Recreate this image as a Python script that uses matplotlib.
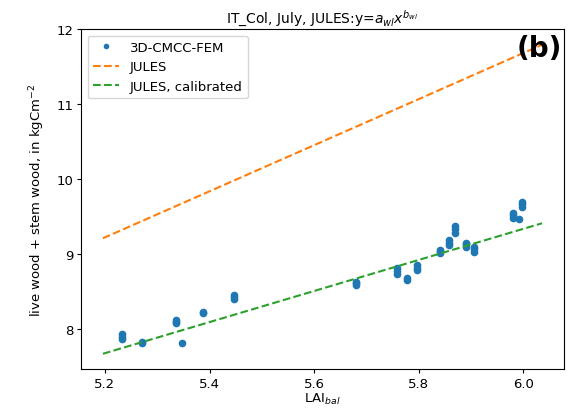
import matplotlib
matplotlib.use("Agg")
import matplotlib.pyplot as plt

# 3D-CMCC-FEM points (LAI_bal, wood carbon)
lai_pts = [5.233, 5.233, 5.233,
           5.270, 5.270,
           5.336, 5.336, 5.336,
           5.347,
           5.388, 5.388,
           5.447, 5.447, 5.447,
           5.680, 5.680, 5.680,
           5.758, 5.758, 5.758,
           5.778, 5.778,
           5.797, 5.797, 5.797,
           5.841, 5.841, 5.841,
           5.858, 5.858, 5.858,
           5.869, 5.869, 5.869,
           5.891, 5.891, 5.891,
           5.905, 5.905, 5.905,
           5.980, 5.980, 5.980,
           5.992,
           5.998, 5.998, 5.998]
wood_pts = [7.87, 7.90, 7.93,
            7.81, 7.83,
            8.08, 8.10, 8.12,
            7.81,
            8.21, 8.23,
            8.40, 8.43, 8.46,
            8.59, 8.61, 8.63,
            8.74, 8.78, 8.81,
            8.65, 8.68,
            8.79, 8.82, 8.86,
            9.01, 9.04, 9.06,
            9.12, 9.15, 9.19,
            9.28, 9.33, 9.37,
            9.10, 9.13, 9.15,
            9.03, 9.07, 9.10,
            9.48, 9.52, 9.55,
            9.47,
            9.63, 9.67, 9.70]

# JULES allometric lines (endpoints)
lai_line = [5.196, 6.036]
jules_y = [9.21, 11.79]
jules_cal_y = [7.67, 9.41]

fig = plt.figure(figsize=(5.74, 4.14), dpi=100)
ax = fig.add_axes([0.141, 0.1063, 0.8416, 0.8212])

ax.plot(lai_pts, wood_pts, '.', color='C0', label='3D-CMCC-FEM', markersize=9, linestyle='none')
ax.plot(lai_line, jules_y, '--', color='C1', label='JULES')
ax.plot(lai_line, jules_cal_y, '--', color='C2', label='JULES, calibrated')

ax.set_xticks([5.2, 5.4, 5.6, 5.8, 6.0])
ax.set_yticks([8, 9, 10, 11, 12])
ax.set_xlim(5.154, 6.078)
ax.set_ylim(7.467, 12.0)
ax.tick_params(length=3, pad=2.5, labelsize=9.5)

ax.set_title('IT_Col, July, JULES:y=$a_{wl}x^{b_{wl}}$', fontsize=10, pad=5)
ax.set_xlabel('LAI$_{bal}$', fontsize=9.5, labelpad=1)
ax.set_ylabel('live wood + stem wood, in kgCm$^{-2}$', fontsize=9.5, labelpad=7)
ax.legend(loc='upper left', markerscale=0.67, fontsize=9.5)
ax.text(0.996, 0.985, '(b)', transform=ax.transAxes, ha='right', va='top',
        fontsize=20, fontweight='bold')

fig.savefig('out.png', dpi=100)
